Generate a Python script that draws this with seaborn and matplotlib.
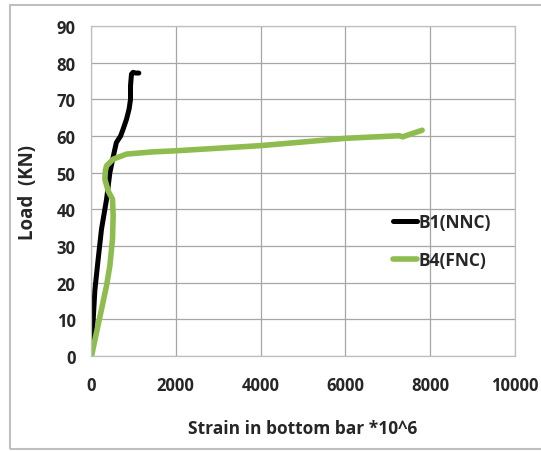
import matplotlib
matplotlib.use("Agg")
import matplotlib.pyplot as plt
import seaborn as sns
from matplotlib.patches import Rectangle

# B1(NNC) - black curve
strain_b1 = [10, 15, 55, 94, 172, 250, 370, 447, 520, 565, 600, 642, 700, 760, 840, 901, 934, 934, 957, 995, 1060, 1130]
load_b1 = [0, 2.8, 10, 18, 26.5, 34.6, 42.8, 50, 54, 56.4, 58.2, 59, 60, 61.9, 64.6, 67.4, 70, 73.7, 76.9, 77.4, 77.2, 77.2]

# B4(FNC) - green curve
strain_b4 = [15, 133, 251, 369, 447, 510, 525, 510, 408, 329, 340, 369, 525, 840, 1466, 2016,
             4000, 6000, 7270, 7350, 7500, 7810]
load_b4 = [0, 6.5, 12.8, 19.2, 24.6, 31.9, 38.3, 42.8, 45, 48.3, 50.5, 51.9, 53.7, 55.1, 55.7, 56,
           57.4, 59.4, 60.1, 59.8, 60.4, 61.6]

x_ticks = [0, 2000, 4000, 6000, 8000, 10000]
y_ticks = [0, 10, 20, 30, 40, 50, 60, 70, 80, 90]

sns.set_style("white")
plt.rcParams['font.family'] = ['Open Sans', 'DejaVu Sans']

fig = plt.figure(figsize=(5.41, 4.52), dpi=100)
ax = fig.add_axes([0.168, 0.210, 0.784, 0.730])

sns.lineplot(x=strain_b1, y=load_b1, sort=False, estimator=None, color='black',
             linewidth=3.6, solid_capstyle='round', label='B1(NNC)', ax=ax)
sns.lineplot(x=strain_b4, y=load_b4, sort=False, estimator=None, color='#8fbc4f',
             linewidth=4.0, solid_capstyle='round', label='B4(FNC)', ax=ax)

ax.set_xlim(0, 10000)
ax.set_ylim(0, 90)
ax.set_xticks(x_ticks)
ax.set_yticks(y_ticks)
ax.grid(True, color='#a6a6a6', linewidth=0.9)
ax.set_axisbelow(True)
for s in ax.spines.values():
    s.set_color('#bfbfbf')
    s.set_linewidth(0.9)

ax.tick_params(axis='x', length=0, pad=14, labelsize=12)
ax.tick_params(axis='y', length=0, pad=11, labelsize=12)
for lbl in ax.get_xticklabels() + ax.get_yticklabels():
    lbl.set_fontweight('bold')

ax.set_xlabel('Strain in bottom bar *10^6', fontsize=12.5, fontweight='bold')
ax.set_ylabel('Load  (KN)', fontsize=13.5, fontweight='bold')
ax.xaxis.set_label_coords(0.5, -0.19)
ax.yaxis.set_label_coords(-0.125, 0.5)

leg = ax.legend(loc='center left', bbox_to_anchor=(0.675, 0.35), frameon=False,
                handlelength=1.4, handletextpad=0.1, labelspacing=1.15,
                prop={'size': 12.5, 'weight': 'bold'})

# outer frame around the chart
fig.patches.append(Rectangle((0.018, 0.004), 1.1, 0.983, transform=fig.transFigure,
                             fill=False, edgecolor='#bfbfbf', linewidth=1.5))

fig.savefig('out.png', dpi=100)
